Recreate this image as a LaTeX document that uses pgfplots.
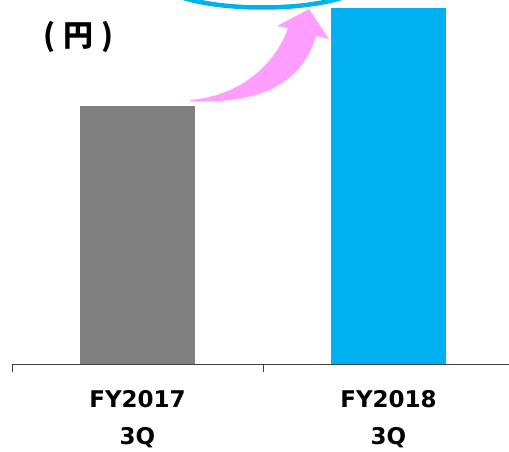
\documentclass[border=0pt]{standalone}
\usepackage{pgfplots}
\pgfplotsset{compat=1.18}
\usepackage{fontspec}
\setmainfont{DejaVu Sans}
\newfontfamily\cjk{Noto Sans CJK JP}
\definecolor{gbar}{HTML}{808080}
\definecolor{bbar}{HTML}{00B0F0}
\definecolor{pk}{HTML}{FF9EFF}
\begin{document}
\begin{tikzpicture}[x=1pt,y=1pt]
\useasboundingbox (0,0) rectangle (509,-452);
\begin{axis}[
  at={(12pt,-364pt)}, anchor=south west,
  scale only axis, width=497pt, height=364pt,
  xmin=-0.5, xmax=1.48, ymin=0, ymax=364,
  hide y axis,
  axis x line*=bottom,
  x axis line style={black!75, line width=0.75pt},
  xtick={0,1},
  xticklabels={{FY2017\\3Q},{FY2018\\3Q}},
  x tick label style={align=center, font=\fontsize{23}{37}\selectfont\bfseries, yshift=-23pt},
  major tick length=0pt,
  extra x ticks={-0.5,0.5},
  extra x tick labels={},
  extra x tick style={major tick length=8pt, tick align=outside, tick style={black!75, line width=0.75pt}},
  ybar, bar width=115pt, bar shift=0pt,
  clip=false,
]
\addplot[fill=gbar, draw=none] coordinates {(0,258)};
\addplot[fill=bbar, draw=none] coordinates {(1,356)};
\end{axis}
\draw[bbar, line width=4.5pt] (262.5,22.5) ellipse [x radius=108, y radius=30];
\fill[pk] (190,-100) .. controls (240,-96) and (275,-65) .. (288,-28) -- (277,-26) -- (309,-9) -- (329,-39) -- (316,-36) .. controls (300,-90) and (250,-104) .. (190,-101) -- cycle;
\node at (78.5,-37) {\cjk\bfseries\fontsize{30}{34}\selectfont (\hspace{8pt}円\hspace{8pt})};
\end{tikzpicture}
\end{document}
